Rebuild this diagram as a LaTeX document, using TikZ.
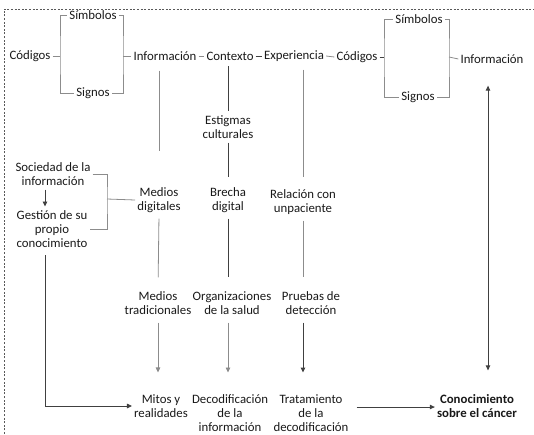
\documentclass[tikz,border=0pt]{standalone}
\usepackage{fontspec}
\setmainfont{Carlito}
\usepackage{tikz}
\usetikzlibrary{arrows.meta,calc}

\begin{document}
\begin{tikzpicture}[x=1pt,y=-1pt,font=\fontsize{12.8}{13.8}\selectfont,>={Triangle[length=5pt,width=4.5pt]},
  lbl/.style={align=center,inner sep=2pt,text=black!90},
  gln/.style={draw=black!45,line width=0.8pt},
  dln/.style={draw=black!75,line width=0.9pt},
  frm/.style={draw=black!65,line width=0.6pt,dash pattern=on 2pt off 1.6pt}]
\useasboundingbox (0,0) rectangle (534,434);
\draw[frm] (4,434) -- (4,9) -- (534,9);
\node[lbl] (cod1) at (30,56)  {Códigos};
\node[lbl] (sim1) at (93,15)  {Símbolos};
\node[lbl] (sig1) at (93,93)  {Signos};
\node[lbl] (info1) at (165,56){Información};
\node[lbl] (ctx) at (230,56)  {Contexto};
\node[lbl] (exp) at (294,56)  {Experiencia};
\node[lbl] (cod2) at (357,57) {Códigos};
\node[lbl] (sim2) at (419,19) {Símbolos};
\node[lbl] (sig2) at (418,97) {Signos};
\node[lbl] (info2) at (492,59){Información};
\node[lbl] (est) at (228,127) {Estigmas\\culturales};
\node[lbl] (soc) at (53,174)  {Sociedad de la\\información};
\node[lbl] (ges) at (52,229)  {Gestión de su\\propio\\conocimiento};
\node[lbl] (md) at (159,200)  {Medios\\digitales};
\node[lbl] (bd) at (228,200)  {Brecha\\digital};
\node[lbl] (rel) at (303,202) {Relación con\\unpaciente};
\node[lbl] (mt) at (158,303)  {Medios\\tradicionales};
\node[lbl] (org) at (232,303) {Organizaciones\\de la salud};
\node[lbl] (pru) at (311,303) {Pruebas de\\detección};
\node[lbl] (mit) at (161,406) {Mitos y\\realidades};
\node[lbl] (dec) at (230,413) {Decodificación\\de la\\información};
\node[lbl] (tra) at (311,413) {Tratamiento\\de la\\decodificación};
\node[lbl,font=\fontsize{12.8}{13.8}\selectfont\bfseries] (con) at (477,406) {Conocimiento\\sobre el cáncer};
\coordinate (bl1) at (60,56);
\coordinate (br1) at (123,56);
\coordinate (bl2) at (384,57);
\coordinate (br2) at (449,57);
\coordinate (bs) at (107,199);
\draw[gln] (sim1.west) -| (bl1) |- (sig1.west);
\draw[gln] (sim1.east) -| (br1) |- (sig1.east);
\draw[gln] (cod1.east) -- (bl1);
\draw[gln] (br1) -- (info1.west);
\draw[gln] (info1.east) -- (ctx.west);
\draw[dln] (ctx.east) -- (exp.west);
\draw[gln] (exp.east) -- (cod2.west);
\draw[gln] (sim2.west) -| (bl2) |- (sig2.west);
\draw[gln] (sim2.east) -| (br2) |- (sig2.east);
\draw[dln] (cod2.east) -- (bl2);
\draw[gln] (br2) -- (info2.west);
\draw[gln,shorten <=8pt,shorten >=34pt] (md |- info1.south) -- (md.north);
\draw[gln,shorten <=4pt,shorten >=12pt] (md.south) -- (mt.north);
\draw[gln,->,shorten <=6pt,shorten >=20pt] (mt.south) -- (mt |- mit.north);
\draw[dln,shorten <=4pt,shorten >=2pt] (est |- ctx.south) -- (est.north);
\draw[dln,shorten <=2pt,shorten >=8pt] (est.south) -- (bd.north);
\draw[dln,shorten <=4pt,shorten >=12pt] (bd.south) -- (bd |- org.north);
\draw[gln,->,shorten <=6pt,shorten >=20pt] (bd |- org.south) -- (bd |- dec.north);
\draw[gln,shorten <=6pt,shorten >=10pt] (rel |- exp.south) -- (rel.north);
\draw[gln,shorten <=4pt,shorten >=12pt] (rel.south) -- (rel |- pru.north);
\draw[dln,->,shorten <=6pt,shorten >=20pt] (rel |- pru.south) -- (rel |- tra.north);
\draw[dln,<->,shorten <=20pt,shorten >=22pt] (con.north -| 488,0) coordinate (cn) (info2.south -| cn) -- (cn);
\draw[dln,->] (tra.east) ++(6,-6) coordinate (ta) (ta) -- (ta -| con.west);
\draw[gln] (soc.east) -| (bs) |- (ges.east);
\draw[gln] (bs) -- (md.west);
\draw[dln,->,shorten <=2pt,shorten >=2pt] (45,0 |- soc.south) coordinate (sa) (sa) -- (sa |- ges.north);
\draw[dln,->,shorten <=6pt] (45,0 |- ges.south) coordinate (ga) (ga) |- (mit.west);
\end{tikzpicture}
\end{document}
